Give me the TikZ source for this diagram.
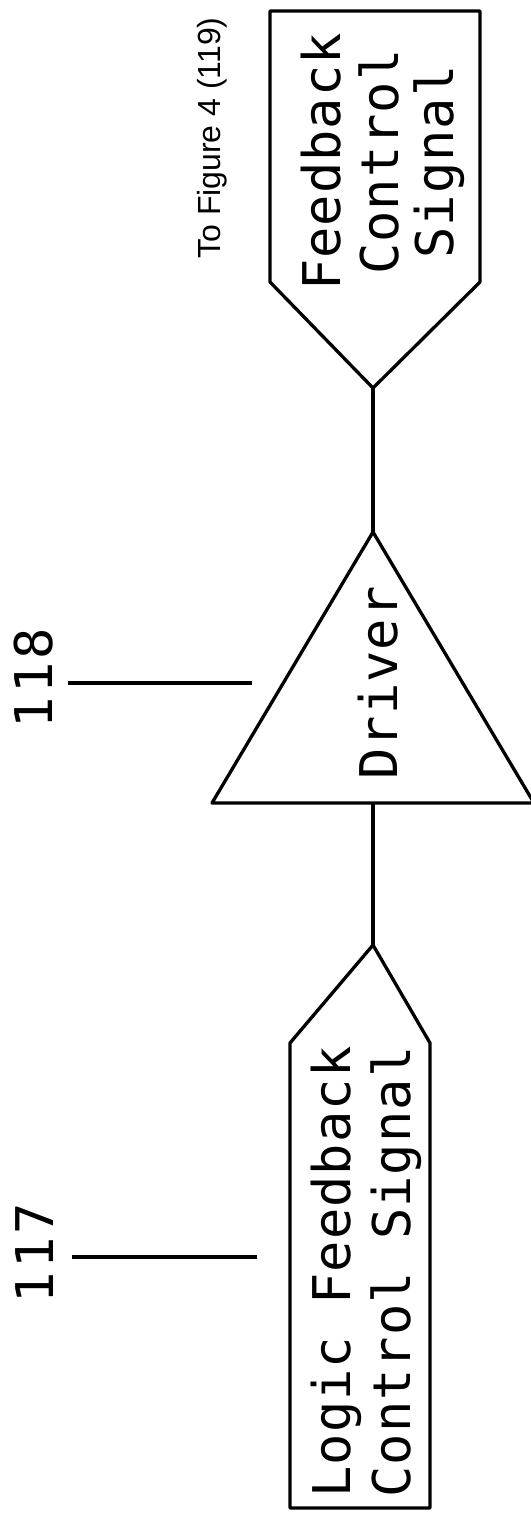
\documentclass[tikz,border=0pt]{standalone}
\usepackage{fontspec}
\newfontfamily\monofnt[LetterSpace=2]{DejaVu Sans Mono}
\newfontfamily\labelfnt[LetterSpace=6]{DejaVu Sans Mono}
\newfontfamily\notefnt{Liberation Sans}
\begin{document}
\begin{tikzpicture}[x=1pt,y=1pt,
  outline/.style={draw=black, line width=3.3pt, line join=round},
  boxtext/.style={rotate=90, anchor=base, inner sep=0pt, font=\monofnt\fontsize{52}{56}\selectfont},
  reflabel/.style={rotate=90, anchor=base, inner sep=0pt, font=\labelfnt\fontsize{52}{56}\selectfont},
  notetext/.style={rotate=90, anchor=base, inner sep=0pt, font=\notefnt\fontsize{32}{36}\selectfont}]
\useasboundingbox (0,0) rectangle (530,-1520);

% shape outlines
\coordinate (fcsTip) at (373,-388);
\coordinate (drvApex) at (373,-532);
\coordinate (drvBase) at (373,-803);
\coordinate (lfcsTip) at (373,-945);

\draw[outline] (270,-11) -- (480,-11) -- (480,-282) -- (fcsTip) -- (270,-282) -- cycle;
\draw[outline] (212,-803) -- (drvApex) -- (534,-803) -- cycle;
\draw[outline] (lfcsTip) -- (430,-1043) -- (430,-1508) -- (290,-1508) -- (290,-1043) -- cycle;

% connectors
\draw[outline] (fcsTip) -- (drvApex);
\draw[outline] (drvBase) -- (lfcsTip);

% texts
\node[boxtext] (fcs1) at (340,-162) {Feedback};
\node[boxtext] (fcs2) at (398,-162) {Control};
\node[boxtext] (fcs3) at (453,-162) {Signal};
\node[boxtext] (drv) at (397,-683) {Driver};
\node[boxtext] (lfcs1) at (350,-1272) {Logic Feedback};
\node[boxtext] (lfcs2) at (410,-1272) {Control Signal};
\node[notetext] (tofig) at (220,-138) {To Figure 4 (119)};

% reference labels
\node[reflabel] (r118) at (52,-678) {118};
\node[reflabel] (r117) at (53,-1253) {117};
\coordinate (l118a) at (68,-683);
\coordinate (l118b) at (252,-683);
\coordinate (l117a) at (72,-1257);
\coordinate (l117b) at (257,-1257);
\draw[outline] (l118a) -- (l118b);
\draw[outline] (l117a) -- (l117b);
\end{tikzpicture}
\end{document}
